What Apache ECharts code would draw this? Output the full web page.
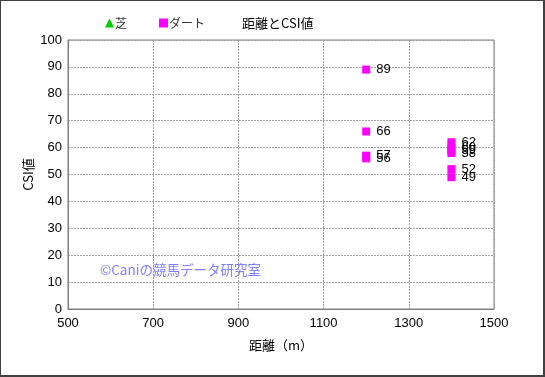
<!DOCTYPE html>
<html>
<head>
<meta charset="utf-8">
<script src="https://cdn.jsdelivr.net/npm/echarts@6/dist/echarts.min.js"></script>
<style>
  html, body { margin: 0; padding: 0; background: #fff; }
  #frame {
    position: absolute; left: 0; top: 0;
    width: 542px; height: 374px;
    border-left: 1px solid #404040;
    border-top: 1px solid #404040;
    border-right: 2px solid #404040;
    border-bottom: 2px solid #404040;
    background: #fff;
  }
  #chart { width: 545px; height: 377px; position: absolute; left: 0; top: 0; }
</style>
</head>
<body>
<div id="frame"></div>
<div id="chart"></div>
<script>
// 芝 (turf) has no points in this chart
const turfDist = []
const turfCsi = []

// ダート (dirt)
const dirtDist = [1200, 1200, 1200, 1200, 1400, 1400, 1400, 1400, 1400, 1400]
const dirtCsi = [89, 66, 57, 56, 62, 60, 59, 58, 52, 49]

const xTicks = [500, 700, 900, 1100, 1300, 1500]

const font = '"Noto Sans CJK JP", "Liberation Sans", sans-serif'
const numFont = '"Liberation Sans", Arial, sans-serif'

const chart = echarts.init(document.getElementById('chart'))

chart.setOption({
  animation: false,
  textStyle: { fontFamily: font },
  title: {
    text: '距離とCSI値',
    left: 237,
    top: 12,
    textStyle: { fontSize: 13, fontWeight: 'normal', color: '#000', fontFamily: font },
  },
  legend: {
    left: 100,
    top: 12,
    itemGap: 32,
    itemWidth: 9,
    itemHeight: 9,
    textStyle: { fontSize: 12, color: '#333', padding: [0, 0, 0, -4] },
    data: [
      { name: '芝', icon: 'triangle', itemStyle: { color: '#00cc00', opacity: 1 } },
      { name: 'ダート', icon: 'rect', itemStyle: { color: '#ff00ff', opacity: 1 } },
    ],
  },
  grid: {
    left: 68,
    right: 51,
    top: 40,
    bottom: 68,
    show: true,
    borderColor: '#808080',
    borderWidth: 1,
  },
  xAxis: {
    type: 'value',
    min: 500,
    max: 1500,
    interval: 200,
    name: '距離（m）',
    nameLocation: 'middle',
    nameGap: 30,
    nameMoveOverlap: false,
    nameTextStyle: { fontSize: 13, color: '#000' },
    axisLine: { lineStyle: { color: '#808080' } },
    axisTick: { show: false },
    axisLabel: {
      fontSize: 13, color: '#000', margin: 8,
      fontFamily: numFont,
      formatter: (v) => (xTicks.includes(v) ? String(v) : ''),
    },
    splitLine: { lineStyle: { color: '#a0a0a0', type: [2, 1] } },
  },
  yAxis: {
    type: 'value',
    min: 0,
    max: 100,
    interval: 10,
    name: 'CSI値',
    nameLocation: 'middle',
    nameGap: 33,
    nameMoveOverlap: false,
    nameTextStyle: { fontSize: 13, color: '#000' },
    axisLine: { show: true, lineStyle: { color: '#808080' } },
    axisTick: { show: false },
    axisLabel: { fontSize: 13, color: '#000', margin: 6, fontFamily: numFont },
    splitLine: { lineStyle: { color: '#a0a0a0', type: [2, 1] } },
  },
  graphic: [{
    type: 'text',
    left: 100,
    top: 263,
    style: {
      text: '©Caniの競馬データ研究室',
      fontSize: 13.5,
      fill: '#8080ff',
      fontFamily: font,
    },
  }],
  series: [
    {
      name: '芝',
      type: 'scatter',
      symbol: 'triangle',
      symbolSize: 9,
      itemStyle: { color: '#00cc00', opacity: 1 },
      data: turfDist.map((d, i) => [d, turfCsi[i]]),
    },
    {
      name: 'ダート',
      type: 'scatter',
      symbol: 'rect',
      symbolSize: 8,
      itemStyle: { color: '#ff00ff', opacity: 1 },
      label: {
        show: true,
        position: 'right',
        distance: 6,
        fontSize: 13,
        color: '#000',
        fontFamily: numFont,
        formatter: (p) => String(p.value[1]),
      },
      labelLayout: { hideOverlap: false },
      data: dirtDist.map((d, i) => [d, dirtCsi[i]]),
    },
  ],
})
</script>
</body>
</html>
